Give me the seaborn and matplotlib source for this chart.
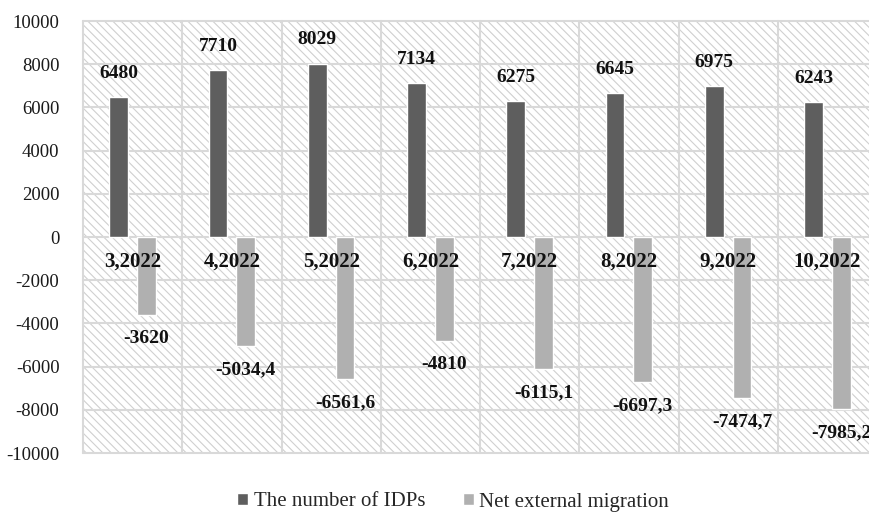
import matplotlib
matplotlib.use("Agg")
import matplotlib.pyplot as plt
import seaborn as sns
import pandas as pd
from matplotlib.patches import Rectangle

categories = ["3,2022", "4,2022", "5,2022", "6,2022", "7,2022", "8,2022", "9,2022", "10,2022"]
idps = [6480, 7710, 8029, 7134, 6275, 6645, 6975, 6243]
migration = [-3620, -5034.4, -6561.6, -4810, -6115.1, -6697.3, -7474.7, -7985.2]
idps_labels = ["6480", "7710", "8029", "7134", "6275", "6645", "6975", "6243"]
migration_labels = ["-3620", "-5034,4", "-6561,6", "-4810", "-6115,1", "-6697,3", "-7474,7", "-7985,2"]
series = ["The number of IDPs", "Net external migration"]
yticks = [-10000, -8000, -6000, -4000, -2000, 0, 2000, 4000, 6000, 8000, 10000]

df = pd.DataFrame({
    "month": categories * 2,
    "value": idps + migration,
    "series": [series[0]] * len(categories) + [series[1]] * len(categories),
})

sns.set_theme(style="white")
plt.rcParams["font.family"] = ["Liberation Serif", "DejaVu Serif"]
plt.rcParams["hatch.color"] = "#d0d0d0"
plt.rcParams["hatch.linewidth"] = 0.8

fig = plt.figure(figsize=(8.69, 5.16), dpi=100)
ax = fig.add_axes([83 / 869, 1 - 453 / 516, 794 / 869, 432 / 516])

# hatched background
bg = Rectangle((0, 0), 1, 1, transform=ax.transAxes, facecolor="white",
               edgecolor="#d0d0d0", hatch="\\\\\\\\", linewidth=0, zorder=0)
ax.add_patch(bg)

colors = {series[0]: "#5e5e5e", series[1]: "#b0b0b0"}
sns.barplot(data=df, x="month", y="value", hue="series", palette=colors,
            width=0.56, gap=0.32, ax=ax, zorder=3, legend=True, errorbar=None)

ax.set_xlim(-0.5, len(categories) - 0.5)
ax.set_ylim(-10000, 10000)
ax.set_yticks(yticks)
ax.set_yticklabels([str(t) for t in yticks], fontsize=13.5, color="#1a1a1a")
ax.tick_params(axis="y", length=0, pad=17)
ax.set_xticks([])
ax.tick_params(axis="x", which="both", length=0, labelbottom=False)
ax.set_xlabel("")
ax.set_ylabel("")

for y in yticks:
    ax.axhline(y, color="#d9d9d9", linewidth=1.5, zorder=1, clip_on=False)
for i in range(len(categories) + 1):
    ax.axvline(i - 0.5, color="#d9d9d9", linewidth=1.5, zorder=1, clip_on=False)
for s in ax.spines.values():
    s.set_visible(False)

off = 0.14
for i, cat in enumerate(categories):
    ax.annotate(idps_labels[i], (i - off, idps[i]), xytext=(0, 17), textcoords="offset points",
                ha="center", va="center", fontsize=14, fontweight="bold", color="#111111", zorder=5)
    ax.annotate(migration_labels[i], (i + off, migration[i]), xytext=(0, -17), textcoords="offset points",
                ha="center", va="center", fontsize=14, fontweight="bold", color="#111111", zorder=5,
                annotation_clip=False)
    ax.annotate(cat, (i, 0), xytext=(0, -18), textcoords="offset points",
                ha="center", va="center", fontsize=15, fontweight="bold", color="#111111", zorder=5)

leg = ax.get_legend()
handles = leg.legend_handles
leg.remove()
fig.legend(handles, series, loc="center", bbox_to_anchor=(453 / 869, 1 - 502 / 516), ncol=2,
           frameon=False, fontsize=15, handlelength=0.55, handleheight=0.55,
           handletextpad=0.25, columnspacing=1.8, borderpad=0, borderaxespad=0)

fig.savefig("out.png", dpi=100)
